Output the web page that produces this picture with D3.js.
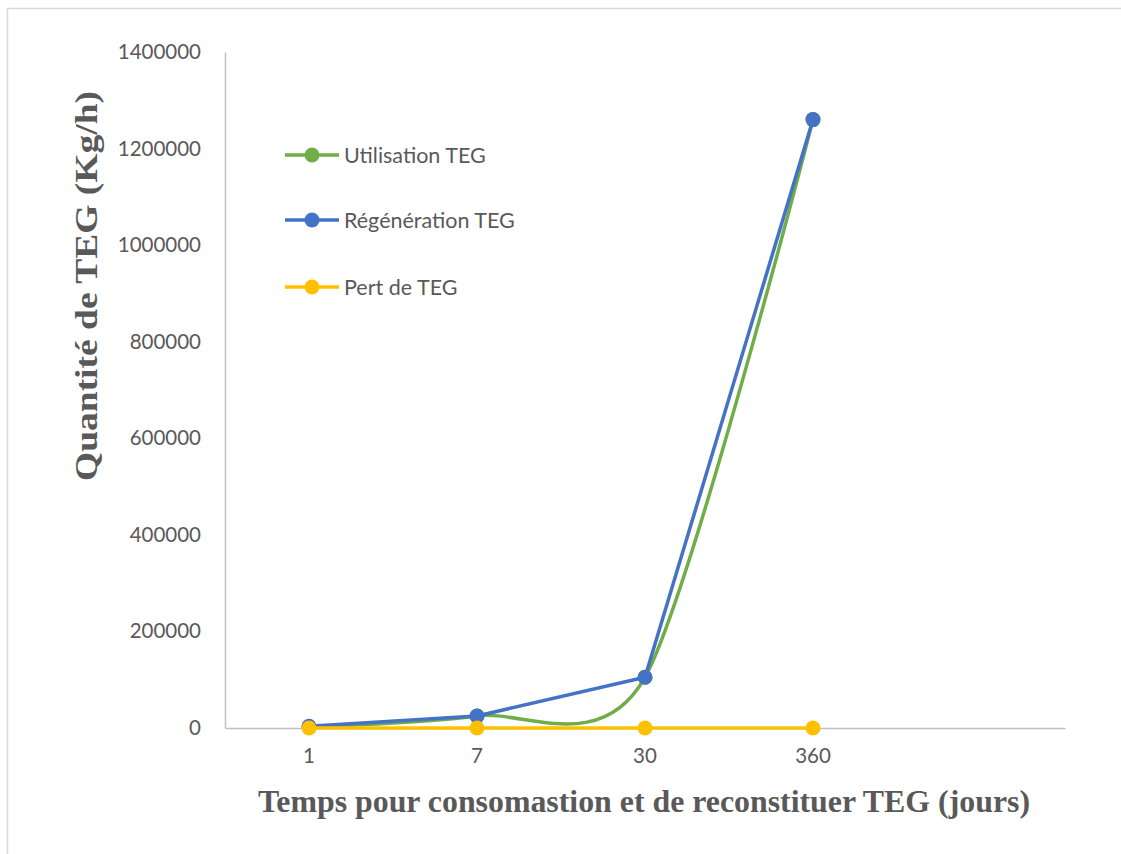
<!DOCTYPE html>
<html>
<head>
<meta charset="utf-8">
<script src="https://cdn.jsdelivr.net/npm/d3@7"></script>
<style>
  body { margin: 0; background: #fff; }
  svg text { fill: #595959; }
</style>
</head>
<body>
<div id="chart"></div>
<script>
// Categories on the x axis (the last slot is empty in the original)
var categories = ["1", "7", "30", "360", ""];
// Series values (Kg/h)
var utilisation = [2000, 25000, 105000, 1260000];
var regeneration = [3500, 25000, 105000, 1260000];
var perte = [0, 0, 0, 0];
// Y ticks
var yTicks = [0, 200000, 400000, 600000, 800000, 1000000, 1200000, 1400000];

var seriesNames = ["Utilisation TEG", "Régénération TEG", "Pert de TEG"];
var seriesColors = ["#70AD47", "#4472C4", "#FFC000"];

var width = 1121, height = 854;
var svg = d3.select("#chart").append("svg")
    .attr("width", width)
    .attr("height", height);

// Outer frame of the chart area
svg.append("rect")
    .attr("x", 7.5).attr("y", 8.5)
    .attr("width", width + 10).attr("height", height + 10)
    .attr("fill", "none")
    .attr("stroke", "#d9d9d9")
    .attr("stroke-width", 1.5);

var margin = {left: 225, right: 56, top: 52, bottom: 126};
var plotW = width - margin.left - margin.right;
var plotH = height - margin.top - margin.bottom;

var chart = svg.append("g")
    .attr("transform", "translate(" + margin.left + "," + margin.top + ")");

var x = d3.scaleBand().domain(categories).range([0, plotW]);
var y = d3.scaleLinear().domain([0, 1400000]).range([plotH, 0]);

function cx(i) { return x(categories[i]) + x.bandwidth() / 2; }

// Y axis
var yAxis = d3.axisLeft(y).tickValues(yTicks).tickSize(0).tickPadding(24)
    .tickFormat(d3.format("d"));
var gy = chart.append("g").call(yAxis);
gy.select(".domain").attr("stroke", "#bfbfbf").attr("stroke-width", 1.5);
gy.selectAll("text")
    .style("font-family", "Lato, 'Noto Sans', sans-serif")
    .style("font-size", "20.5px")
    .attr("fill", "#595959");

// X axis
var xAxis = d3.axisBottom(x).tickSize(0).tickPadding(20);
var gx = chart.append("g")
    .attr("transform", "translate(0," + plotH + ")")
    .call(xAxis);
gx.select(".domain").attr("stroke", "#bfbfbf").attr("stroke-width", 1.5);
gx.selectAll("text")
    .style("font-family", "Lato, 'Noto Sans', sans-serif")
    .style("font-size", "20.5px")
    .attr("fill", "#595959");

// Lines
var straight = d3.line()
    .x(function (d, i) { return cx(i); })
    .y(function (d) { return y(d); });
var smooth = d3.line()
    .x(function (d, i) { return cx(i); })
    .y(function (d) { return y(d); })
    .curve(d3.curveCardinal.tension(0.2));

var allSeries = [
    {values: utilisation, line: smooth},
    {values: regeneration, line: straight},
    {values: perte, line: straight}
];

allSeries.forEach(function (s, k) {
    var g = chart.append("g");
    g.append("path")
        .datum(s.values)
        .attr("d", s.line)
        .attr("fill", "none")
        .attr("stroke", seriesColors[k])
        .attr("stroke-width", 3.5)
        .attr("stroke-linejoin", "round");
    g.selectAll("circle")
        .data(s.values)
        .enter()
        .append("circle")
        .attr("cx", function (d, i) { return cx(i); })
        .attr("cy", function (d) { return y(d); })
        .attr("r", 7.5)
        .attr("fill", seriesColors[k]);
});

// Legend
var legend = svg.append("g").attr("transform", "translate(285,0)");
var legendY = [155, 220, 287];
seriesNames.forEach(function (name, k) {
    var row = legend.append("g").attr("transform", "translate(0," + legendY[k] + ")");
    row.append("line")
        .attr("x1", 0).attr("x2", 54)
        .attr("stroke", seriesColors[k])
        .attr("stroke-width", 3.5);
    row.append("circle")
        .attr("cx", 27).attr("r", 7.5)
        .attr("fill", seriesColors[k]);
    row.append("text")
        .attr("x", 59).attr("dy", "0.35em")
        .style("font-family", "Lato, 'Noto Sans', sans-serif")
        .style("font-size", "21.5px")
        .text(name);
});

// Axis titles
svg.append("text")
    .attr("x", 258).attr("y", 812)
    .attr("textLength", 772)
    .attr("lengthAdjust", "spacingAndGlyphs")
    .style("font-family", "'Liberation Serif', 'DejaVu Serif', serif")
    .style("font-weight", "bold")
    .style("font-size", "31px")
    .text("Temps pour consomastion et de reconstituer TEG (jours)");

svg.append("text")
    .attr("transform", "translate(97,481) rotate(-90)")
    .attr("textLength", 390)
    .attr("lengthAdjust", "spacingAndGlyphs")
    .style("font-family", "'Liberation Serif', 'DejaVu Serif', serif")
    .style("font-weight", "bold")
    .style("font-size", "31px")
    .text("Quantité de TEG (Kg/h)");
</script>
</body>
</html>
